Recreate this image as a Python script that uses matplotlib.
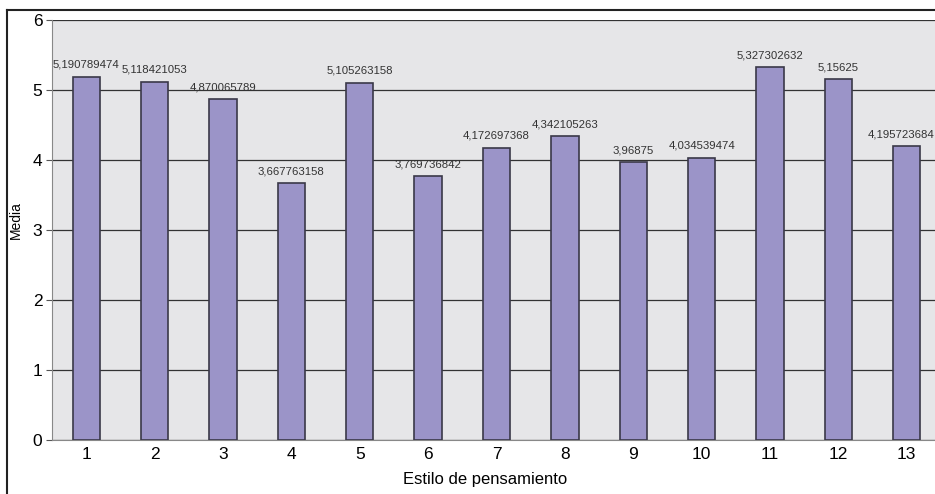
import matplotlib.pyplot as plt
from matplotlib.lines import Line2D
from matplotlib.transforms import offset_copy

plt.rcParams['font.family'] = ['Liberation Sans', 'DejaVu Sans']

# ---------- DATA ----------
estilos = ['1', '2', '3', '4', '5', '6', '7', '8', '9', '10', '11', '12', '13']
medias = [5.190789474, 5.118421053, 4.870065789, 3.667763158, 5.105263158,
          3.769736842, 4.172697368, 4.342105263, 3.96875, 4.034539474,
          5.327302632, 5.15625, 4.195723684]
etiquetas = ['5,190789474', '5,118421053', '4,870065789', '3,667763158',
             '5,105263158', '3,769736842', '4,172697368', '4,342105263',
             '3,96875', '4,034539474', '5,327302632', '5,15625', '4,195723684']

# ---------- PLOT ----------
fig = plt.figure(figsize=(9.35, 4.94), dpi=100)
ax = fig.add_axes([0.0556, 0.1093, 0.9508, 0.8502])

x = list(range(len(estilos)))
ax.set_facecolor('#e6e6e8')
ax.bar(x, medias, width=0.4, color='#9b94c8', edgecolor='#3a3848',
       linewidth=1.2, zorder=3)
textos = []
for xi, v, t in zip(x, medias, etiquetas):
    textos.append(ax.text(xi, v + 0.1, t, ha='center', va='bottom', fontsize=8.2,
                          color='#333333', zorder=4))

ax.set_xlim(-0.5, len(estilos) - 0.5)
ax.set_ylim(0, 6)
ax.set_yticks(range(0, 7))
ax.set_xticks(x)
ax.set_xticklabels(estilos)
ax.yaxis.grid(True, color='#333333', linewidth=0.9, zorder=1)
ax.tick_params(axis='both', labelsize=12.5, length=4, color='#555555')
ax.tick_params(axis='y', pad=3)
ax.tick_params(axis='x', length=0, pad=5)
for s in ['top', 'right']:
    ax.spines[s].set_visible(False)
for s in ['left', 'bottom']:
    ax.spines[s].set_color('#888888')
ax.set_ylabel('Media', fontsize=10)
ax.set_xlabel('Estilo de pensamiento', fontsize=12)
# place axis labels (pixel positions converted to axes fraction)
ax.xaxis.set_label_coords((485 - 52) / 889, -(479 - 440) / 420)
ax.yaxis.set_label_coords(-(52 - 16) / 889, (440 - 220) / 420)
ax.xaxis.label.set_va('center')
ax.yaxis.label.set_va('center')

# outer frame
fig.add_artist(Line2D([7 / 935, 7 / 935], [0, 1 - 10 / 494], transform=fig.transFigure,
                      color='#222222', linewidth=1.5))
fig.add_artist(Line2D([7 / 935, 1], [1 - 10 / 494, 1 - 10 / 494], transform=fig.transFigure,
                      color='#222222', linewidth=1.5))

# keep value labels inside the picture (like the original does)
fig.canvas.draw()
renderer = fig.canvas.get_renderer()
ancho = fig.bbox.width
for tx in textos:
    bb = tx.get_window_extent(renderer)
    if bb.x1 > ancho - 1:
        tx.set_transform(offset_copy(tx.get_transform(), fig=fig,
                                     x=(ancho - 1 - bb.x1), units='dots'))

plt.savefig('out.png', dpi=100)
